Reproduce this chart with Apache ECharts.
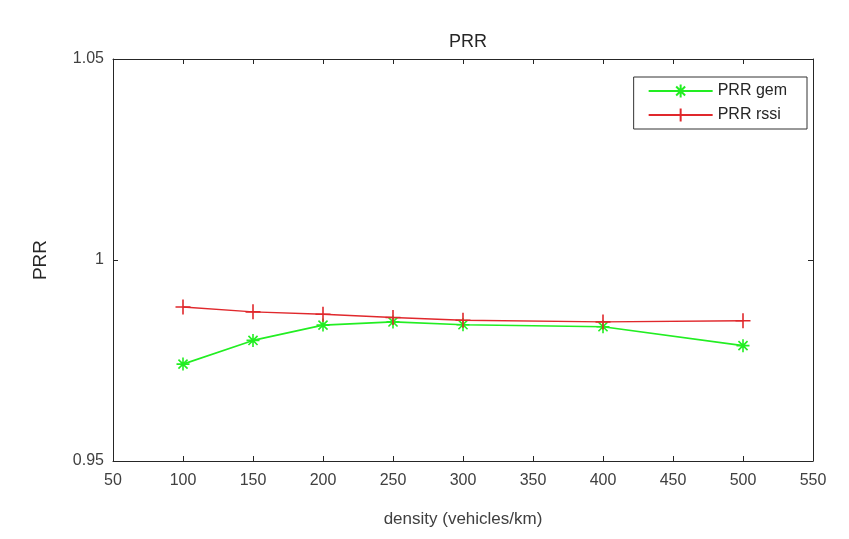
<!DOCTYPE html>
<html>
<head>
<meta charset="utf-8">
<script src="https://cdn.jsdelivr.net/npm/echarts@6/dist/echarts.min.js"></script>
<style>html,body{margin:0;padding:0;background:#fff}#c{width:849px;height:539px}</style>
</head>
<body>
<div id="c"></div>
<script>
const density = [100, 150, 200, 250, 300, 400, 500];
const prrGem  = [0.9741, 0.9800, 0.9838, 0.9846, 0.9839, 0.9834, 0.9787];
const prrRssi = [0.9883, 0.9871, 0.9865, 0.9857, 0.9850, 0.9846, 0.9849];
const xTicks = [50, 100, 150, 200, 250, 300, 350, 400, 450, 500, 550];
const yTicks = [0.95, 1, 1.05];

const FONT = '"Liberation Sans", Arial, sans-serif';
const AX = '#262626';
const plusPath = 'path://M0,-10L0,10M-10,0L10,0';
const starPath = 'path://M0,-10L0,10M-10,0L10,0M-7,-7L7,7M-7,7L7,-7';

const chart = echarts.init(document.getElementById('c'));
const pair = (xs, ys) => xs.map((x, i) => [x, ys[i]]);

const baseX = {
  type: 'value', min: 50, max: 550, interval: 50,
  axisLine: { show: true, lineStyle: { color: AX, width: 1 } },
  axisTick: { show: true, inside: true, length: 5, lineStyle: { color: AX } },
  splitLine: { show: false }
};
const baseY = {
  type: 'value', min: 0.95, max: 1.05, interval: 0.05,
  axisLine: { show: true, lineStyle: { color: AX, width: 1 } },
  axisTick: { show: true, inside: true, length: 5, lineStyle: { color: AX } },
  splitLine: { show: false }
};

chart.setOption({
  animation: false,
  backgroundColor: '#fff',
  title: {
    text: 'PRR', left: 463, top: 28, textAlign: 'center',
    textStyle: { fontFamily: FONT, fontSize: 18, fontWeight: 'normal', color: '#262626' }
  },
  grid: { left: 113, right: 36, top: 59, bottom: 78 },
  legend: {
    orient: 'vertical', right: 42, top: 77,
    backgroundColor: '#fff',
    borderColor: '#333', borderWidth: 1,
    padding: [6, 20, 6, 14],
    itemWidth: 64, itemHeight: 16, itemGap: 8,
    textStyle: { fontFamily: FONT, fontSize: 16, color: '#262626' },
    data: ['PRR gem', 'PRR rssi']
  },
  xAxis: [
    Object.assign({}, baseX, {
      position: 'bottom',
      name: 'density (vehicles/km)', nameLocation: 'middle', nameGap: 50,
      nameTextStyle: { fontFamily: FONT, fontSize: 17, color: '#404040' },
      axisLabel: { margin: 12, fontFamily: FONT, fontSize: 16, color: '#404040',
        formatter: v => xTicks.includes(v) ? String(v) : '' }
    }),
    Object.assign({}, baseX, { position: 'top', axisLabel: { show: false } })
  ],
  yAxis: [
    Object.assign({}, baseY, {
      position: 'left',
      name: 'PRR', nameLocation: 'middle', nameGap: 63,
      nameTextStyle: { fontFamily: FONT, fontSize: 19, color: '#262626' },
      axisLabel: { margin: 9, fontFamily: FONT, fontSize: 16, color: '#404040',
        formatter: v => { const t = yTicks.find(k => Math.abs(k - v) < 1e-9); return t === undefined ? '' : String(t); } }
    }),
    Object.assign({}, baseY, { position: 'right', axisLabel: { show: false } })
  ],
  series: [
    {
      name: 'PRR gem', type: 'line', xAxisIndex: 0, yAxisIndex: 0,
      data: pair(density, prrGem),
      symbol: starPath, symbolSize: 13,
      lineStyle: { color: '#22ee22', width: 1.6 },
      itemStyle: { color: 'rgba(0,0,0,0)', borderColor: '#22ee22', borderWidth: 1.6 }
    },
    {
      name: 'PRR rssi', type: 'line', xAxisIndex: 0, yAxisIndex: 0,
      data: pair(density, prrRssi),
      symbol: plusPath, symbolSize: 15,
      lineStyle: { color: '#e0282c', width: 1.4 },
      itemStyle: { color: 'rgba(0,0,0,0)', borderColor: '#e0282c', borderWidth: 1.6 }
    }
  ]
});
</script>
</body>
</html>
